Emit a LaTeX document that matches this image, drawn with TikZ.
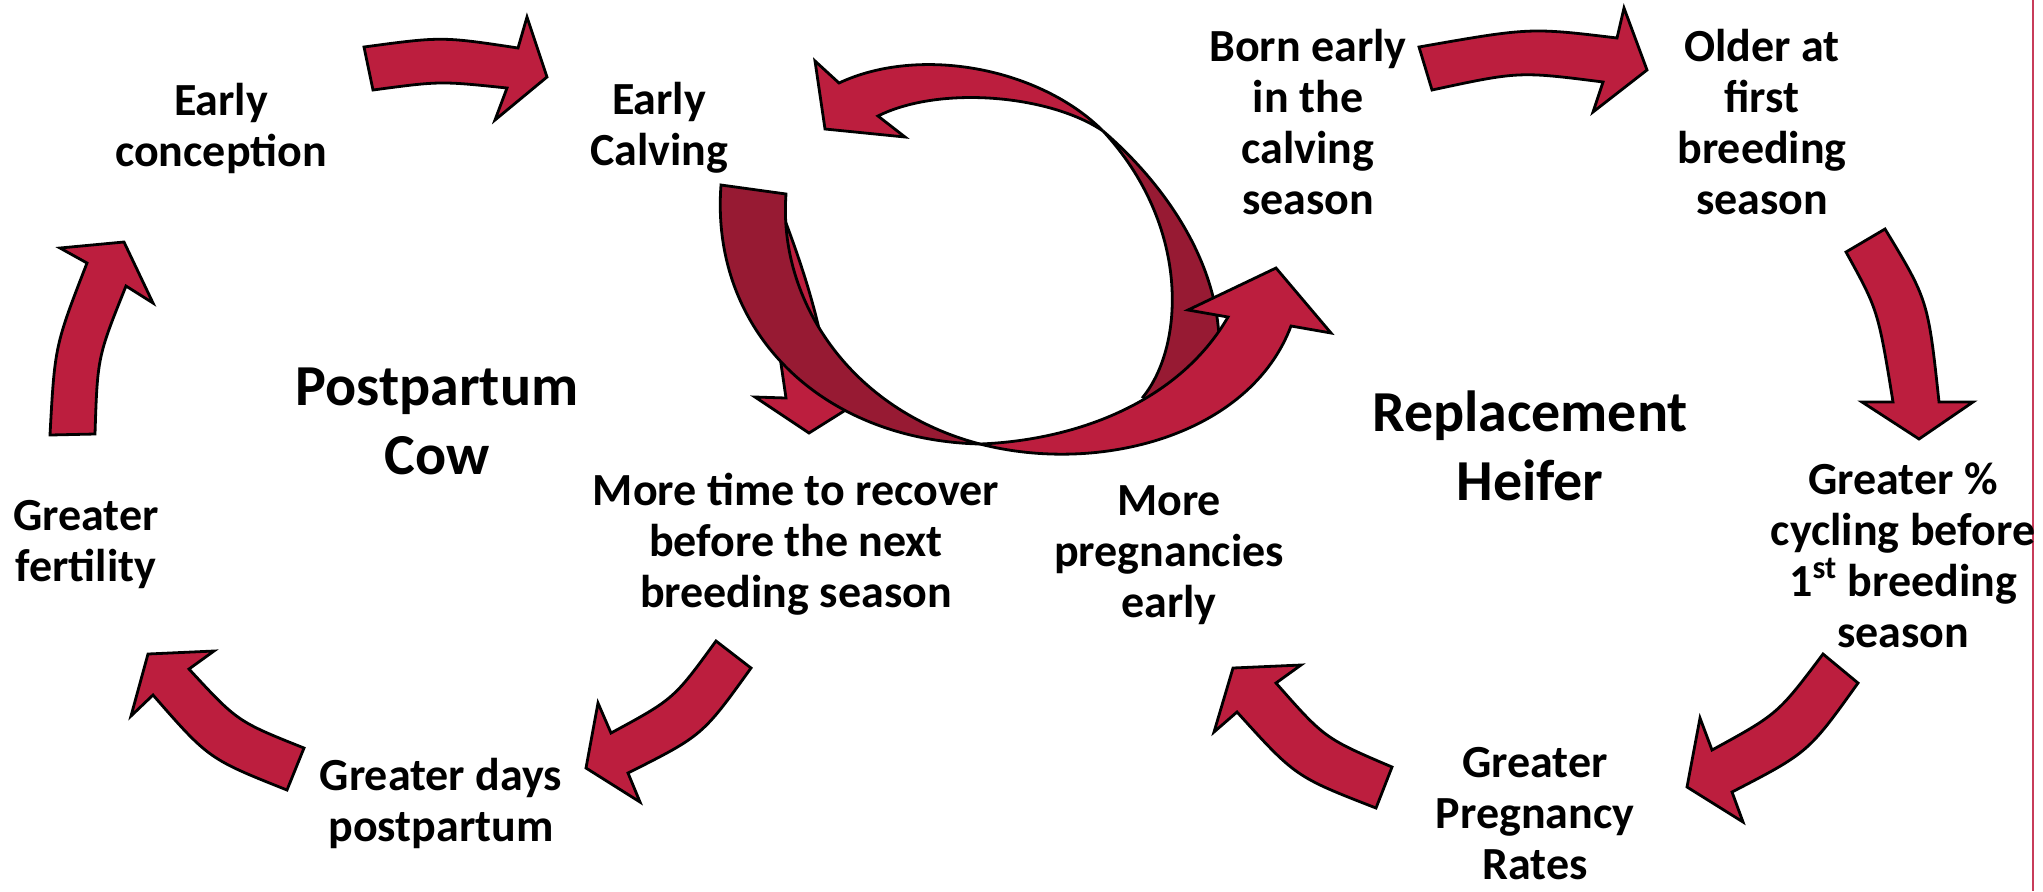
\documentclass[tikz,border=0pt]{standalone}
\usepackage{fontspec}
\setmainfont{Carlito}
\definecolor{bright}{RGB}{188,30,62}
\definecolor{darkr}{RGB}{151,26,51}
\definecolor{edgeline}{RGB}{200,60,90}
\tikzset{
 blk/.style={draw=black, line width=1.4pt, line join=miter, fill=bright},
 blkdark/.style={blk, fill=darkr},
 lbl/.style={font=\bfseries\fontsize{23}{25.5}\selectfont, align=center, inner sep=0pt},
 headlbl/.style={font=\bfseries\fontsize{29}{34.5}\selectfont, align=center, inner sep=0pt},
}
\begin{document}
\begin{tikzpicture}[x=0.5pt,y=-0.5pt]
\useasboundingbox (0,0) rectangle (2043,891);
\fill[white] (0,0) rectangle (2043,891);

% right edge line
\coordinate (et) at (2033,0);
\coordinate (eb) at (2033,891);
\draw[edgeline, line width=1.1pt] (et) -- (eb);

% postpartum cycle arrows
\draw[blk] (364,47) .. controls (442,36.5) .. (518,48) -- (527,17) -- (547,77) -- (495,120) -- (507,88) .. controls (440,81) .. (373,90) -- cycle;
\draw[blk] (50,435) .. controls (54.8,346) .. (87,263) -- (60,248) -- (124,242) -- (153,303) -- (126,286) .. controls (97.5,357) .. (95,434) -- cycle;
\draw[blk] (304,748) -- (287,790) .. controls (208.7,758.8) .. (153,695) -- (131,716) -- (148,654) -- (214,651) -- (189,669) .. controls (237.5,721.5) .. (304,748) -- cycle;
\draw[blk] (716,641) -- (751,668) .. controls (702.5,735.5) .. (628,773) -- (640,802) -- (586,768) -- (598,703) -- (611,733) .. controls (673.8,699) .. (716,641) -- cycle;

% heifer cycle arrows
\draw[blk] (1419,47) .. controls (1530,27.5) .. (1617,38) -- (1624,8) -- (1647,70) -- (1593,112) -- (1603,82) .. controls (1519,71.3) .. (1432,90) -- cycle;
\draw[blk] (1846,252) .. controls (1878,310) .. (1893,402) -- (1862,402) -- (1919,439) -- (1973,402) -- (1939,402) .. controls (1928,300) .. (1885,229) -- cycle;
\draw[blk] (1823,654) -- (1858,683) .. controls (1808.3,752.5) .. (1732,792) -- (1743,822) -- (1687,787) -- (1700,718) -- (1712,750) .. controls (1777.8,714) .. (1823,654) -- cycle;
\draw[blk] (1392,767) -- (1376,808) .. controls (1295.5,776.7) .. (1237,712) -- (1214,732) -- (1233,668) -- (1301,665) -- (1276,683) .. controls (1324.7,738.3) .. (1392,767) -- cycle;

% central loop
\draw[blk] (750,215) -- (783,215) .. controls (800,260) and (825,330) .. (830,398) -- (852,406) -- (809,433) -- (755,397) -- (786,398) -- (780,357) -- (760,260) -- cycle;
\draw[blkdark] (1103,131) .. controls (1160,180) and (1210,250) .. (1218,325) -- (1222,360) -- (1152,403) -- (1143,397) .. controls (1185,345) and (1190,225) .. (1103,131) -- cycle;
\draw[blk] (839,83) -- (815,61) -- (825,129) -- (905,137) -- (878,116) .. controls (940,85) and (1050,95) .. (1103,131) .. controls (1040,68) and (920,45) .. (839,83) -- cycle;
\draw[blkdark] (721,185) -- (786,194) .. controls (778,300) and (850,410) .. (980,444) .. controls (820,440) and (710,330) .. (721,185) -- cycle;
\draw[blk] (980,444) .. controls (1100,475) and (1250,435) .. (1291,326) -- (1331,333) -- (1276,268) -- (1188,310) -- (1228,317) .. controls (1180,400) and (1080,440) .. (980,444) -- cycle;

% labels
\node[lbl] (econc) at (221,128) {Early\\conception};
\node[lbl] (ecalv) at (659,128) {Early\\Calving};
\node[lbl] (born) at (1308,122) {Born early\\in the\\calving\\season};
\node[lbl] (older) at (1762,122) {Older at\\first\\breeding\\season};
\node[headlbl] (pp) at (437,421) {Postpartum\\Cow};
\node[headlbl] (rh) at (1530,446) {Replacement\\Heifer};
\node[lbl] (fert) at (86,545) {Greater\\fertility};
\node[lbl] (recov) at (796,544) {More time to recover\\before the next\\breeding season};
\node[lbl] (preg) at (1169,555) {More\\pregnancies\\early};
\node[lbl] (cyc) at (1903,555) {Greater \%\\cycling before\\1\textsuperscript{st} breeding\\season};
\node[lbl] (days) at (441,803) {Greater days\\postpartum};
\node[lbl] (rates) at (1535,814) {Greater\\Pregnancy\\Rates};
\end{tikzpicture}
\end{document}
